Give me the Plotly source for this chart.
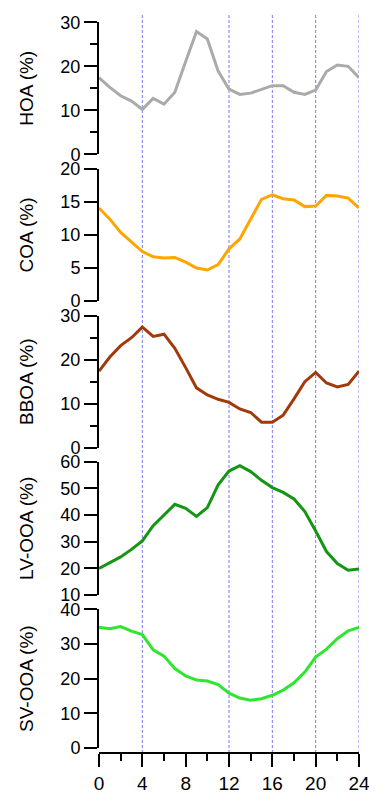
import plotly.graph_objects as go

hours = list(range(25))
x_ticks = [0, 4, 8, 12, 16, 20, 24]
guide_hours = [4, 12, 16, 20, 24]

hoa = [17.4, 15.2, 13.3, 12.1, 10.2, 12.7, 11.4, 14.1, 21.1, 27.9, 26.2, 18.9, 14.8,
       13.6, 13.9, 14.7, 15.6, 15.6, 14.1, 13.6, 14.6, 18.8, 20.3, 20.0, 17.4]
coa = [14.1, 12.4, 10.4, 9.0, 7.5, 6.7, 6.5, 6.6, 5.9, 5.0, 4.7, 5.5, 7.9,
       9.4, 12.4, 15.4, 16.1, 15.5, 15.3, 14.3, 14.4, 16.0, 15.9, 15.6, 14.1]
bboa = [17.4, 20.6, 23.2, 25.0, 27.4, 25.3, 25.8, 22.6, 18.2, 13.6, 12.0, 11.0, 10.3,
        8.8, 8.0, 5.8, 5.8, 7.4, 11.1, 15.0, 17.1, 14.7, 13.8, 14.4, 17.4]
lvooa = [20.0, 22.3, 24.3, 27.1, 30.3, 36.0, 40.0, 44.0, 42.5, 39.5, 42.8, 51.3, 56.5,
         58.5, 56.3, 53.0, 50.3, 48.5, 46.0, 41.3, 34.0, 26.3, 21.8, 19.3, 19.8]
svooa = [34.8, 34.4, 35.0, 33.7, 32.7, 28.3, 26.5, 22.9, 20.8, 19.6, 19.3, 18.3, 15.8,
         14.4, 13.8, 14.2, 15.2, 16.7, 18.8, 21.9, 26.2, 28.5, 31.5, 33.8, 34.8]

names = ["HOA (%)", "COA (%)", "BBOA (%)", "LV-OOA (%)", "SV-OOA (%)"]
series = [hoa, coa, bboa, lvooa, svooa]
colors = ["#aaaaaa", "#ffa500", "#a13a0b", "#149614", "#2ee62e"]
ranges = [[0, 30], [0, 20], [0, 30], [10, 60], [0, 40]]
dticks = [10, 5, 10, 10, 10]
minors = [5, None, 5, None, None]

H = 793
# pixel positions (top, bottom) of each panel
panel_px = [(22.3, 154.3), (169, 301), (315.7, 447.7), (461.7, 595), (609.3, 748)]

FONT = "Arial, Liberation Sans, sans-serif"
fig = go.Figure()

for i, (name, ys, col) in enumerate(zip(names, series, colors)):
    ax = "y" if i == 0 else f"y{i+1}"
    fig.add_trace(go.Scatter(x=hours, y=ys, mode="lines", yaxis=ax, xaxis="x",
                             line=dict(color=col, width=3), showlegend=False,
                             hoverinfo="x+y"))
    top, bot = panel_px[i]
    yax = dict(
        domain=[1 - bot / H, 1 - top / H], range=ranges[i], anchor="x",
        dtick=dticks[i], tick0=0, ticks="outside", ticklen=13, tickwidth=2,
        tickcolor="black", showline=True, linecolor="black", linewidth=2,
        showgrid=False, zeroline=False, automargin=False,
        ticklabeloverflow="allow",
        tickfont=dict(family=FONT, size=18, color="black"),
        title=dict(text=name, font=dict(family=FONT, size=19, color="black"), standoff=22),
    )
    if minors[i]:
        yax["minor"] = dict(dtick=minors[i], tick0=0, ticks="outside", ticklen=7,
                            tickwidth=2, tickcolor="black", showgrid=False)
    key = "yaxis" if i == 0 else f"yaxis{i+1}"
    fig.update_layout(**{key: yax})

fig.update_layout(
    xaxis=dict(range=[0, 24], anchor="free", position=1 - 753.3 / H,
               tickvals=x_ticks, ticks="outside", ticklen=13, tickwidth=2,
               tickcolor="black", showline=True, linecolor="black", linewidth=2,
               showgrid=False, zeroline=False, automargin=False,
               ticklabeloverflow="allow",
               tickfont=dict(family=FONT, size=19, color="black"),
               minor=dict(dtick=2, tick0=0, ticks="outside", ticklen=7, tickwidth=2,
                          tickcolor="black", showgrid=False)),
)

for h in guide_hours:
    fig.add_shape(type="line", xref="x", yref="paper", x0=h, x1=h,
                  y0=1 - 753 / H, y1=1 - 15 / H, layer="below",
                  line=dict(color="rgb(120,120,255)", width=1, dash="3px,2px"))

fig.update_layout(
    width=369, height=793, template="none",
    margin=dict(l=99, r=10, t=0, b=0),
    paper_bgcolor="white", plot_bgcolor="white",
    font=dict(family=FONT, size=19, color="black"),
)

fig.write_html("out.html")
